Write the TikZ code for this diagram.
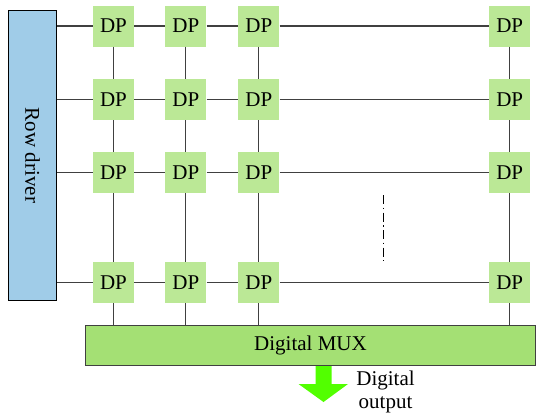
\documentclass[tikz,border=0pt]{standalone}
\usepackage{fontspec}
\setmainfont{Liberation Serif}
\usetikzlibrary{positioning}
\definecolor{dpgreen}{RGB}{187,232,150}
\definecolor{muxgreen}{RGB}{164,224,116}
\definecolor{driverblue}{RGB}{160,204,232}
\definecolor{arrowgreen}{RGB}{82,255,0}
\definecolor{wiregray}{RGB}{64,64,64}
\newcommand{\dpfont}{\fontsize{21}{23}\selectfont}

\begin{document}
\begin{tikzpicture}[
x=1pt, y=-1pt,
dp/.style={rectangle, fill=dpgreen, minimum size=41pt, inner sep=0pt, font=\dpfont},
driver/.style={rectangle, draw=black, line width=1.2pt, fill=driverblue, minimum width=48pt, minimum height=290pt, inner sep=0pt, font=\dpfont},
mux/.style={rectangle, draw=wiregray, line width=1pt, fill=muxgreen, minimum width=450pt, minimum height=40pt, inner sep=0pt, font=\dpfont},
wire/.style={draw=wiregray, line width=1.1pt},
dots/.style={line width=0.9pt, dash pattern=on 9pt off 3.5pt on 1.5pt off 3.5pt}
]
\useasboundingbox (0,0) rectangle (537,415);

\node (driver) [driver] at (32.5,155.5) {\rotatebox{-90}{Row driver}};

\node (dp11) [dp] at (113.5,26) {DP};
\node (dp12) [dp, right=31pt of dp11] {DP};
\node (dp13) [dp, right=31.5pt of dp12] {DP};
\node (dp14) [dp, right=209.5pt of dp13] {DP};

\node (dp21) [dp, below=32pt of dp11] {DP};
\node (dp22) [dp, below=32pt of dp12] {DP};
\node (dp23) [dp, below=32pt of dp13] {DP};
\node (dp24) [dp, below=32pt of dp14] {DP};

\node (dp31) [dp, below=31.5pt of dp21] {DP};
\node (dp32) [dp, below=31.5pt of dp22] {DP};
\node (dp33) [dp, below=31.5pt of dp23] {DP};
\node (dp34) [dp, below=31.5pt of dp24] {DP};

\node (dp41) [dp, below=69pt of dp31] {DP};
\node (dp42) [dp, below=69pt of dp32] {DP};
\node (dp43) [dp, below=69pt of dp33] {DP};
\node (dp44) [dp, below=69pt of dp34] {DP};

\node (mux) [mux] at (310.5,345.5) {Digital MUX};
\node (output) [font=\dpfont, align=center, inner sep=0pt] at (385.5,392) {Digital\\output};
\coordinate (tip) at (323.5,402);

% row lines
\draw [wire] (driver.east |- dp11) -- (dp11) (dp11) -- (dp12) (dp12) -- (dp13) (dp13) -- (dp14);
\draw [wire] (driver.east |- dp21) -- (dp21) (dp21) -- (dp22) (dp22) -- (dp23) (dp23) -- (dp24);
\draw [wire] (driver.east |- dp31) -- (dp31) (dp31) -- (dp32) (dp32) -- (dp33) (dp33) -- (dp34);
\draw [wire] (driver.east |- dp41) -- (dp41) (dp41) -- (dp42) (dp42) -- (dp43) (dp43) -- (dp44);

% column lines
\draw [wire] (dp11) -- (dp21) (dp21) -- (dp31) (dp31) -- (dp41) (dp41) -- (dp41 |- mux.north);
\draw [wire] (dp12) -- (dp22) (dp22) -- (dp32) (dp32) -- (dp42) (dp42) -- (dp42 |- mux.north);
\draw [wire] (dp13) -- (dp23) (dp23) -- (dp33) (dp33) -- (dp43) (dp43) -- (dp43 |- mux.north);
\draw [wire] (dp14) -- (dp24) (dp24) -- (dp34) (dp34) -- (dp44) (dp44) -- (dp44 |- mux.north);

\draw [dots] (383,195) -- (383,261);

% output arrow
\fill [arrowgreen] (mux.south -| tip) ++(-8,0) -- ++(0,18) -- ++(-17,0) -- (tip) -- ++(24.5,-18) -- ++(-16.5,0) -- ++(0,-18) -- cycle;
\end{tikzpicture}
\end{document}
